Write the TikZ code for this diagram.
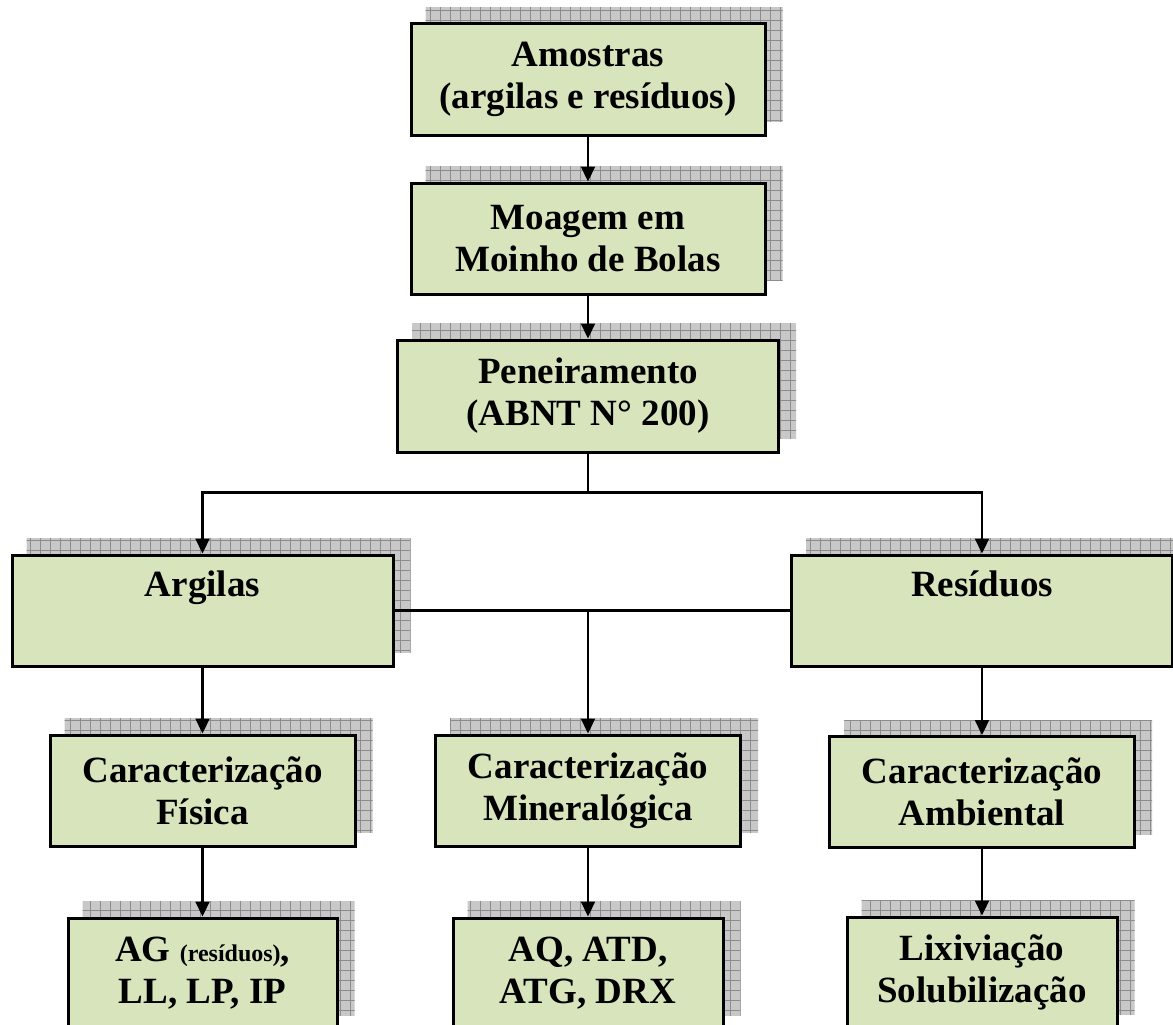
\documentclass[tikz,border=0pt]{standalone}
\usepackage{fontspec}
\setmainfont{Liberation Serif}
\usetikzlibrary{arrows.meta,backgrounds,calc}
\definecolor{boxgreen}{RGB}{215,228,188}
\definecolor{shfill}{RGB}{200,200,200}
\definecolor{shline}{RGB}{140,140,140}
\begin{document}
\begin{tikzpicture}[x=1pt,y=-1pt,
  boxst/.style={draw=black, line width=3pt, fill=boxgreen, align=center, inner sep=0pt,
    font=\bfseries\fontsize{37}{42}\selectfont, text=black},
  conn/.style={draw=black, line width=2.2pt},
  arr/.style={conn, -{Triangle[width=14pt,length=15pt]}},
  shadowgrid/.style={draw=shline, line width=0.7pt, step=10pt}
]
\useasboundingbox (0,0) rectangle (1173,1025);

% boxes
\node[boxst, minimum width=354pt, minimum height=111pt] (amostras) at (588,79.5) {Amostras\\(argilas e resíduos)};
\node[boxst, minimum width=354pt, minimum height=111pt] (moagem) at (588,238.5) {Moagem em\\Moinho de Bolas};
\node[boxst, minimum width=381pt, minimum height=112pt] (peneir) at (588,396) {Peneiramento\\(ABNT N° 200)};
\node[boxst, minimum width=381pt, minimum height=111pt] (argilas) at (202.5,610.5) {Argilas\\\strut};
\node[boxst, minimum width=381pt, minimum height=111pt] (residuos) at (982,610.5) {Resíduos\\\strut};
\node[boxst, minimum width=305pt, minimum height=111pt] (fisica) at (202.5,790.5) {Caracterização\\Física};
\node[boxst, minimum width=305pt, minimum height=111pt] (mineral) at (588,790.5) {Caracterização\\Mineralógica};
\node[boxst, minimum width=305pt, minimum height=111pt] (ambiental) at (982,792) {Caracterização\\Ambiental};
\node[boxst, minimum width=269pt, minimum height=111pt] (ag) at (202.5,973.5) {AG {\fontsize{24}{28}\selectfont(resíduos)},\\LL, LP, IP};
\node[boxst, minimum width=270pt, minimum height=111pt] (aq) at (588,973.5) {AQ, ATD,\\ATG, DRX};
\node[boxst, minimum width=270pt, minimum height=111pt] (lix) at (982,972.5) {Lixiviação\\Solubilização};

% shadows
\begin{scope}[on background layer]
\foreach \n in {amostras,moagem,peneir,argilas,residuos,fisica,mineral,ambiental,ag,aq,lix}{
  \begin{scope}
    \clip ([shift={(16,-15)}]\n.south west) rectangle ([shift={(16,-15)}]\n.north east);
    \fill[shfill] (-20,-20) rectangle (1200,1100);
    \draw[shadowgrid] (0,0) grid (1200,1100);
  \end{scope}
}
\end{scope}

% connectors
\draw[arr] (amostras.south) -- (moagem.north);
\draw[arr] (moagem.south) -- (peneir.north);
\coordinate (br) at ($(peneir.south)+(0,39)$);
\draw[conn] (peneir.south) -- (br);
\draw[arr] (br) -| (argilas.north);
\draw[arr] (br) -| (residuos.north);
\draw[conn] (argilas.east) -- (residuos.west);
\draw[arr] (mineral.north |- argilas.east) -- (mineral.north);
\draw[arr] (argilas.south) -- (fisica.north);
\draw[arr] (residuos.south) -- (ambiental.north);
\draw[arr] (fisica.south) -- (ag.north);
\draw[arr] (mineral.south) -- (aq.north);
\draw[arr] (ambiental.south) -- (lix.north);
\end{tikzpicture}
\end{document}
